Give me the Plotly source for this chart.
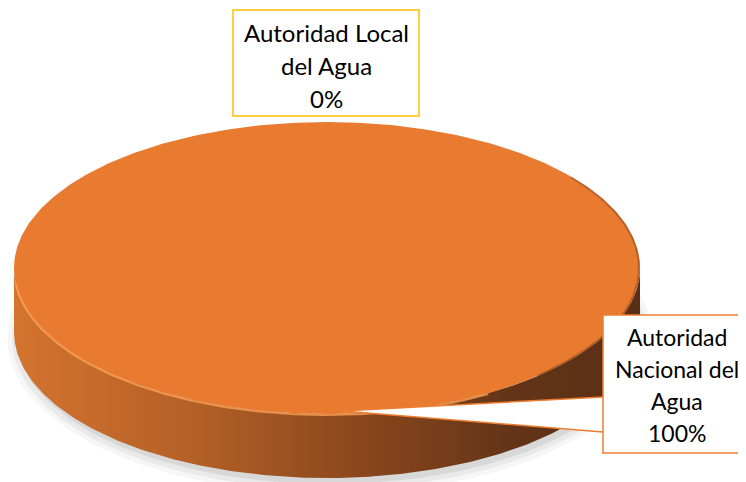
import numpy as np
import plotly.graph_objects as go

# ---- data ----
categories = ["Autoridad Local del Agua", "Autoridad Nacional del Agua"]
values = [0, 100]
label_lines = [["Autoridad Local", "del Agua"], ["Autoridad", "Nacional del", "Agua"]]

# ---- geometry / style ----
W, H = 746, 482
OFF = 8  # page body margin compensation
CX, CY, RX, RY, DEPTH = 327, 268, 313, 146, 64
TOP_COLOR = "#E97B31"
FONT = dict(family="Lato, Calibri, sans-serif", size=24, color="#000000")
FONT_R = dict(family="Lato, Calibri, sans-serif", size=23, color="#000000")

total = sum(values)
shares = [v / total for v in values]
starts = np.cumsum([0] + shares[:-1]) * 2 * np.pi
ends = starts + np.array(shares) * 2 * np.pi


def pt(theta, dy=0.0):
    return CX + RX * np.sin(theta), CY + dy - RY * np.cos(theta)


fig = go.Figure()

# soft shadow
for grow, alpha in [(10, 0.035), (5, 0.05), (0, 0.07)]:
    t = np.linspace(0, 2 * np.pi, 200)
    fig.add_trace(go.Scatter(
        x=CX + 3 + (RX + grow) * np.sin(t), y=CY + DEPTH + 6 - (RY + grow) * np.cos(t),
        fill="toself", fillcolor=f"rgba(0,0,0,{alpha})", line=dict(width=0),
        mode="lines", hoverinfo="skip", showlegend=False))

for s, e, v in zip(starts, ends, values):
    if v == 0:
        continue
    a0, a1 = max(s, np.pi / 2), min(e, 3 * np.pi / 2)
    if a1 > a0:
        t = np.linspace(a0, a1, 200)
        xt, yt = pt(t)
        xb, yb = pt(t[::-1], DEPTH)
        fig.add_trace(go.Scatter(
            x=np.concatenate([xt, xb]), y=np.concatenate([yt, yb]),
            fill="toself", mode="lines", line=dict(width=0),
            fillgradient=dict(type="horizontal", colorscale=[
                [0, "#D4742F"], [0.3, "#B25F26"], [0.55, "#8A471D"],
                [0.8, "#633417"], [1, "#5A2F15"]]),
            hoverinfo="skip", showlegend=False))
    t = np.linspace(s, e, 400)
    xt, yt = pt(t)
    if e - s < 2 * np.pi - 1e-9:
        xt = np.concatenate([[CX], xt, [CX]])
        yt = np.concatenate([[CY], yt, [CY]])
    fig.add_trace(go.Scatter(
        x=xt, y=yt, fill="toself", fillcolor=TOP_COLOR, mode="lines",
        line=dict(width=0), hoverinfo="skip", showlegend=False))
    # darker bevel on the right edge of the top face
    t = np.linspace(0.9, 2.4, 150)
    xr, yr = pt(t)
    fig.add_trace(go.Scatter(
        x=xr - 1, y=yr, mode="lines", line=dict(width=2, color="rgba(120,60,20,0.45)"),
        hoverinfo="skip", showlegend=False))
    # rim highlight on the front-left edge
    if a1 > a0:
        t = np.linspace(max(a0 + 0.6, 2.6), a1 - 0.1, 200)
        xr, yr = pt(t)
        fig.add_trace(go.Scatter(
            x=xr, y=yr + 1, mode="lines", line=dict(width=2, color="rgba(250,160,85,0.8)"),
            hoverinfo="skip", showlegend=False))

shapes = []
annotations = []

# label for slice 0 (Local) - above the pie
box0 = (233, 10, 419, 116)
shapes.append(dict(type="rect", xref="x", yref="y", x0=box0[0], y0=box0[1], x1=box0[2], y1=box0[3],
                   fillcolor="white", line=dict(color="#FFC000", width=1.5), layer="above"))
lines0 = label_lines[0] + [f"{round(shares[0] * 100)}%"]
for i, txt in enumerate(lines0):
    annotations.append(dict(x=(box0[0] + box0[2]) / 2, y=32 + i * 33, xref="x", yref="y",
                            text=txt, showarrow=False, font=FONT, xanchor="center", yanchor="middle"))

# label for slice 1 (Nacional) - callout to the right
box1 = (603, 315, 770, 453)
shapes.append(dict(type="rect", xref="x", yref="y", x0=box1[0], y0=box1[1], x1=box1[2], y1=box1[3],
                   fillcolor="white", line=dict(color="#ED7D31", width=1.5), layer="above"))
mid = (starts[1] + ends[1]) / 2
tipx, tipy = pt(mid)
tipx += 15
tipy -= 3
wy0, wy1 = 397, 432
fig.add_trace(go.Scatter(
    x=[tipx, box1[0] + 2, box1[0] + 2, tipx], y=[tipy, wy0, wy1, tipy],
    fill="toself", fillcolor="white", mode="lines", line=dict(width=0),
    hoverinfo="skip", showlegend=False))
fig.add_trace(go.Scatter(
    x=[box1[0], tipx, box1[0]], y=[wy0, tipy, wy1], mode="lines",
    line=dict(color="#ED7D31", width=1.5), hoverinfo="skip", showlegend=False))
lines1 = label_lines[1] + [f"{round(shares[1] * 100)}%"]
for i, txt in enumerate(lines1):
    annotations.append(dict(x=677, y=337 + i * 32, xref="x", yref="y",
                            text=txt, showarrow=False, font=FONT_R, xanchor="center", yanchor="middle"))

fig.update_layout(
    width=W, height=H, margin=dict(l=0, r=0, t=0, b=0),
    paper_bgcolor="white", plot_bgcolor="white",
    xaxis=dict(range=[OFF, W + OFF], visible=False, fixedrange=True),
    yaxis=dict(range=[H + OFF, OFF], visible=False, fixedrange=True),
    shapes=shapes, annotations=annotations, showlegend=False,
)

fig.write_html("out.html")
